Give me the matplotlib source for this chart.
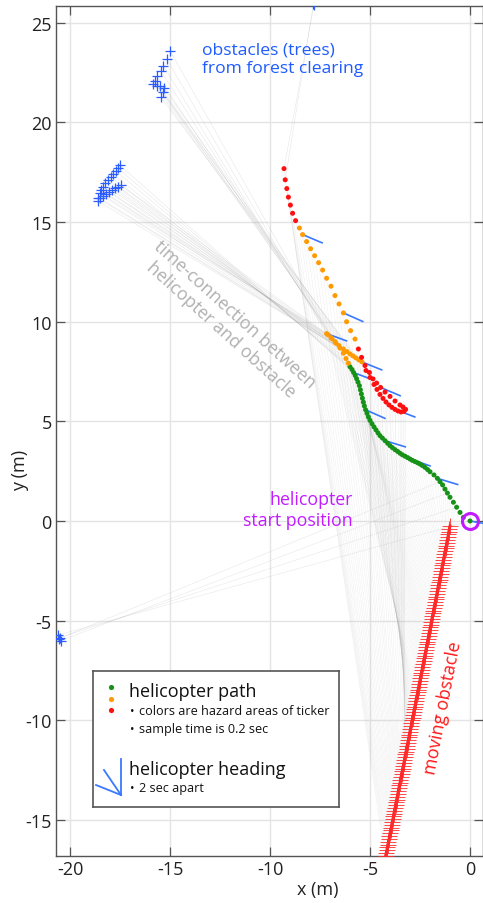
import matplotlib
matplotlib.use("Agg")
import matplotlib.pyplot as plt
import numpy as np
from matplotlib.collections import LineCollection

plt.rcParams["font.family"] = ["Open Sans", "DejaVu Sans"]
plt.rcParams["axes.unicode_minus"] = False

# ---------------------------------------------------------------------------
# helicopter path, one sample every 0.2 s, in time order (metres)
path_x = [0.0, -0.33, -0.5, -0.67, -0.83, -1.0, -1.13, -1.25, -1.37, -1.5,
          -1.63, -1.8, -2.0, -2.12, -2.25, -2.38, -2.5, -2.62, -2.75, -2.88,
          -3.0, -3.12, -3.25, -3.38, -3.5, -3.62, -3.75, -3.88, -4.0, -4.12,
          -4.25, -4.38, -4.5, -4.6, -4.7, -4.8, -4.9, -5.0, -5.08, -5.15,
          -5.22, -5.28, -5.33, -5.38, -5.43, -5.48, -5.53, -5.6, -5.67, -5.74,
          -5.82, -5.9, -6.0,
          -6.08, -6.2, -6.33, -6.5, -6.7, -6.9, -7.1, -7.17, -6.95, -6.75,
          -6.55, -6.33, -6.15, -6.0, -5.85, -5.7, -5.55, -5.4,
          -5.2, -5.0, -4.8, -4.65, -4.5, -4.35, -4.2, -4.05, -3.9, -3.75,
          -3.6, -3.45, -3.3, -3.22, -3.35, -3.5, -3.75, -4.0, -4.25, -4.47,
          -4.67, -4.85, -5.03, -5.25, -5.42, -5.58,
          -5.75, -5.97, -6.17, -6.33, -6.55, -6.75, -6.95, -7.17, -7.37, -7.57,
          -7.77, -7.97, -8.17, -8.37, -8.53,
          -8.72, -8.87, -8.98, -9.08, -9.16, -9.24, -9.3]
path_y = [0.0, 0.18, 0.43, 0.69, 0.94, 1.19, 1.4, 1.6, 1.81, 1.97,
          2.14, 2.31, 2.47, 2.58, 2.69, 2.78, 2.86, 2.92, 2.98, 3.04,
          3.11, 3.18, 3.25, 3.32, 3.4, 3.49, 3.58, 3.68, 3.78, 3.9,
          4.03, 4.16, 4.28, 4.42, 4.57, 4.72, 4.88, 5.05, 5.22, 5.4,
          5.58, 5.77, 5.96, 6.16, 6.37, 6.58, 6.79, 6.97, 7.14, 7.3,
          7.45, 7.6, 7.74,
          7.92, 8.15, 8.42, 8.68, 8.92, 9.15, 9.35, 9.4, 9.2, 9.0,
          8.8, 8.63, 8.5, 8.38, 8.28, 8.18, 8.08, 7.98,
          7.55, 7.2, 6.85, 6.6, 6.35, 6.15, 5.97, 5.82, 5.7, 5.6,
          5.52, 5.47, 5.5, 5.6, 5.72, 5.82, 6.02, 6.25, 6.47, 6.7,
          6.92, 7.13, 7.45, 7.8, 8.21, 8.63,
          9.13, 9.55, 10.0, 10.44, 10.89, 11.31, 11.78, 12.18, 12.59, 12.96,
          13.31, 13.66, 14.02, 14.37, 14.7,
          15.07, 15.44, 15.85, 16.25, 16.68, 17.12, 17.68]
# hazard area of the ticker at each sample: 0 safe, 1 caution, 2 danger
hazard = [0] * 53 + [1] * 18 + [2] * 26 + [1] * 15 + [2] * 7

# helicopter heading every 10th sample (2 s), degrees from +x
heading_deg = [-10, -17, -19, -17, -24, -21, -20, -22, -21, -23, -24, -23]

# moving obstacle position at each sample
mover_x = [-1.00, -1.03, -1.06, -1.08, -1.11, -1.14, -1.17, -1.19, -1.22, -1.25,
           -1.28, -1.30, -1.33, -1.36, -1.39, -1.41, -1.44, -1.47, -1.50, -1.52,
           -1.55, -1.58, -1.61, -1.63, -1.66, -1.69, -1.72, -1.74, -1.77, -1.80,
           -1.83, -1.85, -1.88, -1.91, -1.94, -1.96, -1.99, -2.02, -2.05, -2.07,
           -2.10, -2.13, -2.16, -2.18, -2.21, -2.24, -2.27, -2.29, -2.32, -2.35,
           -2.38, -2.40, -2.43, -2.46, -2.49, -2.51, -2.54, -2.57, -2.60, -2.62,
           -2.65, -2.68, -2.71, -2.73, -2.76, -2.79, -2.82, -2.84, -2.87, -2.90,
           -2.93, -2.95, -2.98, -3.01, -3.04, -3.06, -3.09, -3.12, -3.15, -3.17,
           -3.20, -3.23, -3.26, -3.28, -3.31, -3.34, -3.37, -3.39, -3.42, -3.45,
           -3.48, -3.50, -3.53, -3.56, -3.59, -3.61, -3.64, -3.67, -3.70, -3.72,
           -3.75, -3.78, -3.81, -3.83, -3.86, -3.89, -3.92, -3.94, -3.97, -4.00,
           -4.03, -4.05, -4.08, -4.11, -4.14, -4.16, -4.19, -4.22, -4.25]
mover_y = [-0.25, -0.39, -0.53, -0.67, -0.82, -0.96, -1.10, -1.24, -1.38, -1.52,
           -1.67, -1.81, -1.95, -2.09, -2.23, -2.37, -2.51, -2.66, -2.80, -2.94,
           -3.08, -3.22, -3.36, -3.50, -3.65, -3.79, -3.93, -4.07, -4.21, -4.35,
           -4.50, -4.64, -4.78, -4.92, -5.06, -5.20, -5.34, -5.49, -5.63, -5.77,
           -5.91, -6.05, -6.19, -6.33, -6.48, -6.62, -6.76, -6.90, -7.04, -7.18,
           -7.33, -7.47, -7.61, -7.75, -7.89, -8.03, -8.17, -8.32, -8.46, -8.60,
           -8.74, -8.88, -9.02, -9.16, -9.31, -9.45, -9.59, -9.73, -9.87, -10.01,
           -10.16, -10.30, -10.44, -10.58, -10.72, -10.86, -11.00, -11.15, -11.29, -11.43,
           -11.57, -11.71, -11.85, -11.99, -12.14, -12.28, -12.42, -12.56, -12.70, -12.84,
           -12.99, -13.13, -13.27, -13.41, -13.55, -13.69, -13.83, -13.98, -14.12, -14.26,
           -14.40, -14.54, -14.68, -14.82, -14.97, -15.11, -15.25, -15.39, -15.53, -15.67,
           -15.82, -15.96, -16.10, -16.24, -16.38, -16.52, -16.66, -16.81, -16.95]

# tree detections: position and the path sample they were seen from
tree1_x = [-15.0, -15.17, -15.33, -15.47, -15.63, -15.75, -15.83, -15.67, -15.5, -15.3, -15.37, -15.47]
tree1_y = [23.6, 23.18, 22.85, 22.6, 22.34, 22.09, 21.93, 21.84, 21.81, 21.71, 21.51, 21.26]
tree1_t = [58, 59, 60, 61, 62, 63, 64, 65, 66, 67, 68, 69]

tree2_x = [-17.5, -17.6, -17.7, -17.85, -17.95, -18.1, -18.25, -18.35, -18.45, -18.5,
           -17.45, -17.6, -17.75, -17.9, -18.05, -18.2, -18.35, -18.5, -18.6, -18.6]
tree2_y = [17.85, 17.7, 17.55, 17.4, 17.25, 17.1, 16.95, 16.75, 16.6, 16.45,
           16.85, 16.78, 16.7, 16.6, 16.5, 16.4, 16.3, 16.2, 16.05, 16.2]
tree2_t = [50, 51, 52, 53, 54, 55, 56, 57, 58, 59, 60, 61, 62, 63, 64, 65, 66, 67, 68, 69]

tree3_x = [-20.58, -20.5, -20.45, -20.55]
tree3_y = [-5.72, -5.85, -6.0, -5.9]
tree3_t = [0, 3, 6, 9]

tree4_x = [-7.83, -7.8]
tree4_y = [25.94, 25.9]
tree4_t = [117, 118]

xticks = [-20, -15, -10, -5, 0]
yticks = [-15, -10, -5, 0, 5, 10, 15, 20, 25]

# ---------------------------------------------------------------------------
W, H = 483, 904
fig = plt.figure(figsize=(W / 100, H / 100), dpi=100)
ax = fig.add_axes([56 / W, 1 - 857 / H, 426.5 / W, 850 / H])
ax.set_xlim(-20.7, 0.625)
ax.set_ylim(-16.81, 25.84)

hazard_colors = ["#179219", "#ff9a00", "#ff1010"]
tree_color = "#2a5cff"
heading_color = "#3a78ff"
link_color = "#a0a0a0"

px = np.array(path_x)
py = np.array(path_y)

# time-connection lines between helicopter and each obstacle
segs = [[(px[i], py[i]), (mover_x[i], mover_y[i])] for i in range(len(mover_x))]
ax.add_collection(LineCollection(segs, colors=link_color, linewidths=0.35,
                                 alpha=0.16, zorder=1))
tree_segs = []
for tx, ty, tt in [(tree1_x, tree1_y, tree1_t), (tree2_x, tree2_y, tree2_t),
                   (tree3_x, tree3_y, tree3_t), (tree4_x, tree4_y, tree4_t)]:
    for x, y, t in zip(tx, ty, tt):
        tree_segs.append([(px[t], py[t]), (x, y)])
ax.add_collection(LineCollection(tree_segs, colors=link_color, linewidths=0.35,
                                 alpha=0.28, zorder=1))

# moving obstacle track
ax.plot(mover_x, mover_y, color="#ff1010", lw=2.0, zorder=3)
ax.plot(mover_x, mover_y, "+", color="#ff2a2a", ms=11, mew=0.6, zorder=3)

# trees
for tx, ty in [(tree1_x, tree1_y), (tree2_x, tree2_y), (tree3_x, tree3_y), (tree4_x, tree4_y)]:
    ax.plot(tx, ty, "+", color=tree_color, ms=7, mew=0.9, zorder=4)

# heading markers
L = 1.1
for j, ang in enumerate(heading_deg):
    i = 10 * j
    a = np.deg2rad(ang)
    ax.plot([px[i], px[i] + L * np.cos(a)], [py[i], py[i] + L * np.sin(a)],
            color=heading_color, lw=1.2, zorder=5, solid_capstyle="butt")

# path samples coloured by hazard
ax.scatter(px, py, s=13, c=[hazard_colors[h] for h in hazard], linewidths=0, zorder=6)

# start position
ax.plot(px[0], py[0], "o", ms=11.5, mfc="none", mec="#c21bff", mew=2.2, zorder=7)

# axes styling
ax.set_xticks(xticks)
ax.set_yticks(yticks)
ax.grid(True, color="#e4e4e4", lw=1.0)
ax.set_axisbelow(True)
for s in ax.spines.values():
    s.set_color("#555555")
    s.set_linewidth(1.0)
ax.tick_params(direction="in", top=True, right=True, length=6.5, width=0.9,
               color="#555555", labelsize=13, labelcolor="#222222", pad=3)
ax.set_xlabel("x (m)", fontsize=13, color="#222222")
ax.xaxis.set_label_coords((318 - 56) / 426.5, -(890 - 857) / 850, transform=ax.transAxes)
ax.xaxis.label.set_va("center")
ax.set_ylabel("y (m)", fontsize=13, color="#222222")
ax.yaxis.set_label_coords(-(56 - 20) / 426.5, (857 - 470) / 850, transform=ax.transAxes)
ax.yaxis.label.set_va("center")

# annotations
ax.text(-13.4, 23.2, "obstacles (trees)\nfrom forest clearing", color="#1f5bff",
        fontsize=12.6, ha="left", va="center", linespacing=1.25, zorder=8)
ax.text(-12.1, 10.0, "time-connection between\nhelicopter and obstacle", color="#b0b0b0",
        fontsize=12.8, ha="center", va="center", rotation=-42, rotation_mode="anchor",
        linespacing=1.2, multialignment="center", zorder=8)
ax.text(-5.85, 0.58, "helicopter\nstart position", color="#c21bff", fontsize=12.8,
        ha="right", va="center", multialignment="right", linespacing=1.25, zorder=8)
ax.text(-1.35, -9.33, "moving obstacle", color="#ff1a1a", fontsize=12.8,
        ha="center", va="center", rotation=79, rotation_mode="anchor", zorder=8)

# legend panel
lg = fig.add_axes([93 / W, 1 - 808 / H, 246 / W, 136 / H], zorder=10)
lg.set_xlim(0, 246)
lg.set_ylim(136, 0)
lg.set_xticks([])
lg.set_yticks([])
for s in lg.spines.values():
    s.set_color("#555555")
    s.set_linewidth(1.2)
for k, col in enumerate(hazard_colors):
    lg.scatter([17.7], [16.3 + 11.2 * k], s=14, color=col, linewidths=0)
lg.text(36, 24.7, "helicopter path", fontsize=13, va="baseline", color="#111111")
lg.text(37, 43, "\u2022", fontsize=8.5, va="baseline", color="#111111")
lg.text(46.3, 43, "colors are hazard areas of ticker", fontsize=9.1, va="baseline", color="#111111")
lg.text(37, 60.7, "\u2022", fontsize=8.5, va="baseline", color="#111111")
lg.text(46.3, 60.7, "sample time is 0.2 sec", fontsize=9.1, va="baseline", color="#111111")
lg.text(36, 103, "helicopter heading", fontsize=13, va="baseline", color="#111111")
lg.text(37, 120, "\u2022", fontsize=8.5, va="baseline", color="#111111")
lg.text(46.3, 120, "2 sec apart", fontsize=9.1, va="baseline", color="#111111")
for ex, ey in [(28, 88), (11, 99), (3, 114)]:
    lg.plot([28, ex], [124, ey], color=heading_color, lw=1.3)

fig.savefig("out.png", dpi=100)
